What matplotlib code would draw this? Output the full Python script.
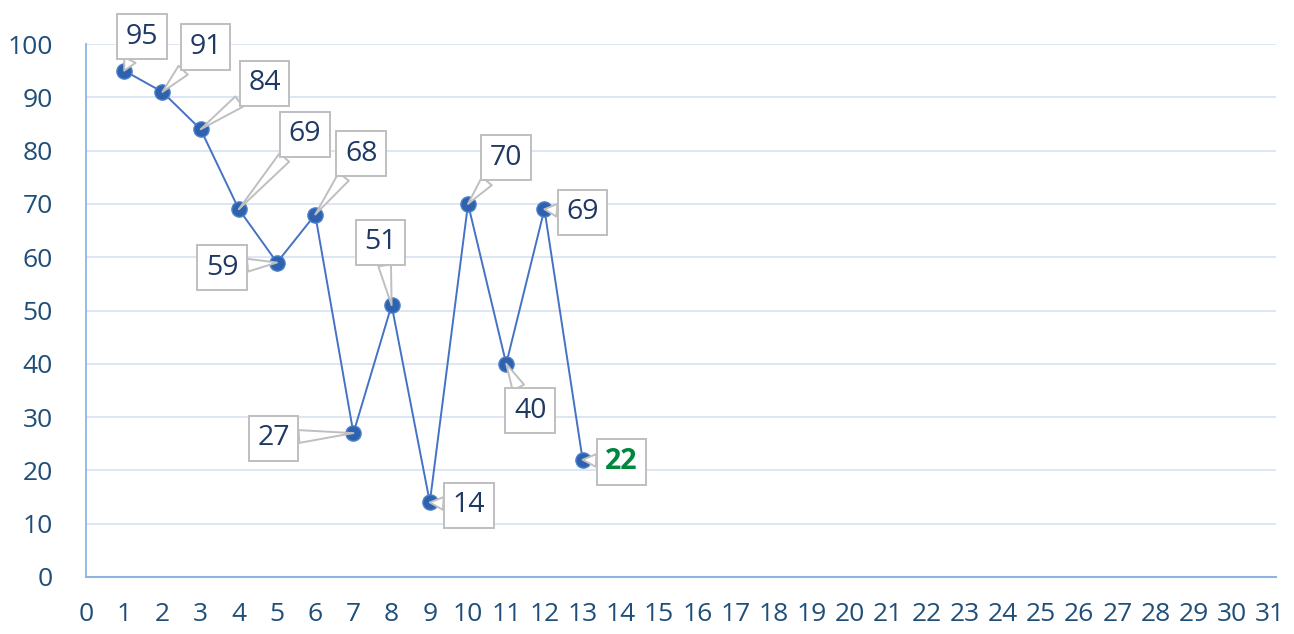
import numpy as np
import matplotlib
matplotlib.use("Agg")
import matplotlib.pyplot as plt

plt.rcParams['font.family'] = ['Open Sans', 'DejaVu Sans']

x = np.arange(1, 14)
y = [95, 91, 84, 69, 59, 68, 27, 51, 14, 70, 40, 69, 22]

# label box offsets from each point, in pixels
offs = [(18, 34), (43, 45), (64, 46), (66, 75), (-55, -5), (46, 61),
        (-80, -5), (-11, 63), (39, -3), (38, 46), (24, -47), (38, -3), (39, -2)]

fig = plt.figure(figsize=(12.94, 6.34), dpi=100)
ax = fig.add_axes([86/1294, 57/634, 1190/1294, 533/634])

line_c = "#4472C4"
ax.plot(x, y, color=line_c, lw=1.4, zorder=3)
ax.scatter(x, y, s=120, color="#2E62AE", edgecolors="#4A80CC", linewidths=1, zorder=4)

for i, (xi, yi) in enumerate(zip(x, y)):
    last = i == len(y) - 1
    ax.annotate(str(yi), (xi, yi), xytext=offs[i], textcoords="offset pixels",
                ha="center", va="center", fontsize=20.5,
                color="#00873E" if last else "#1F3864",
                fontweight="bold" if last else "normal",
                bbox=dict(boxstyle="square,pad=0.3", fc="white", ec="#BFBFBF", lw=1.4),
                arrowprops=dict(arrowstyle="wedge,tail_width=0.45", fc="white",
                                ec="#BFBFBF", lw=1.4, shrinkA=0, shrinkB=0),
                zorder=5)

ax.set_xlim(0, 31.15)
ax.set_ylim(0, 100)
ax.set_xticks(range(0, 32))
ax.set_yticks(range(0, 101, 10))
ax.grid(axis="y", color="#D6E2F3", lw=1.2)
ax.set_axisbelow(True)
for s in ["top", "right"]:
    ax.spines[s].set_visible(False)
ax.spines["left"].set_color("#8EB4E3")
ax.spines["bottom"].set_color("#8EB4E3")
ax.spines["left"].set_linewidth(1.3)
ax.spines["bottom"].set_linewidth(1.5)
ax.tick_params(length=0, labelsize=19, labelcolor="#1F4E79")
ax.tick_params(axis="x", pad=18)
ax.tick_params(axis="y", pad=24)

fig.savefig("out.png", dpi=100)
